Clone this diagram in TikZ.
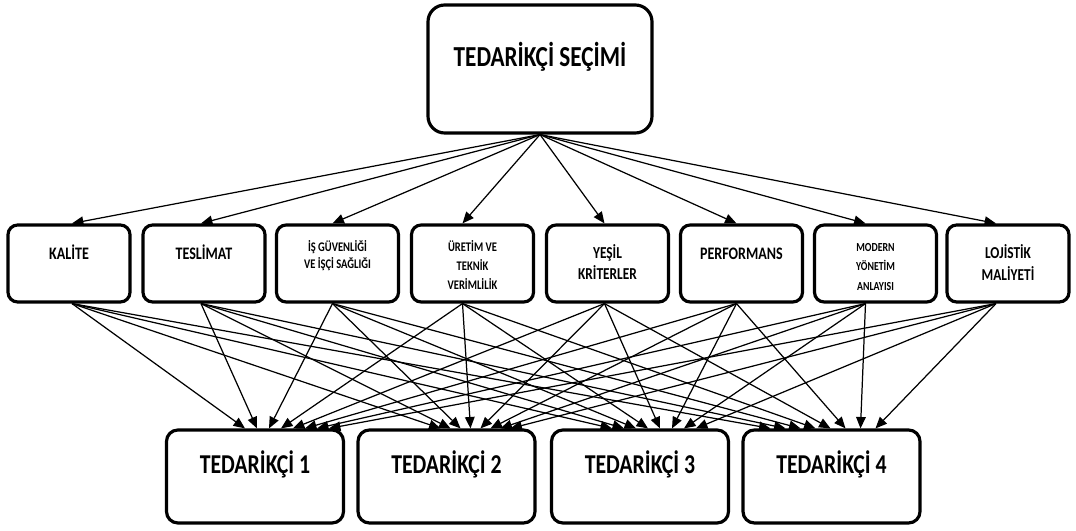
\documentclass[tikz,border=0pt]{standalone}
\usepackage{fontspec}
\setmainfont{Carlito}[FakeStretch=0.8]
\usetikzlibrary{arrows.meta}

\begin{document}
\begin{tikzpicture}[x=0.2mm, y=-0.2mm,
        kasten/.style={draw, line width=1.8pt, fill=white},
        oben/.style={kasten, minimum width=44.8mm, minimum height=25.6mm, rounded corners=9.5pt},
        kriterium/.style={kasten, minimum width=24.4mm, minimum height=15.4mm, rounded corners=5.5pt},
        lieferant/.style={kasten, minimum width=35.4mm, minimum height=18.6mm, rounded corners=6.5pt},
        beschr/.style={font=\bfseries, align=center, inner sep=0pt},
        pfeil/.style={-{Triangle[length=6.5pt,width=5.5pt]}, line width=0.7pt}]

        \useasboundingbox (0, 0) rectangle (1076, 531);

        % Auswahl oben
        \node[oben] (secim) at (540, 69) {};
        \node[beschr, font=\bfseries\fontsize{16.5}{18}\selectfont] (secim-t) at (540, 57) {TEDARİKÇİ SEÇİMİ};

        % Kriterien
        \node[kriterium] (kalite) at (69, 263.5) {};
        \node[kriterium] (teslimat) at (204, 263.5) {};
        \node[kriterium] (isg) at (337.5, 263.5) {};
        \node[kriterium] (uretim) at (472.5, 263.5) {};
        \node[kriterium] (yesil) at (607.5, 263.5) {};
        \node[kriterium] (perf) at (741.5, 263.5) {};
        \node[kriterium] (modern) at (875.5, 263.5) {};
        \node[kriterium] (lojistik) at (1008, 263.5) {};

        % Beschriftungen der Kriterien
        \node[beschr, font=\bfseries\fontsize{10}{12}\selectfont] (kalite-t) at (69, 252) {KALİTE};
        \node[beschr, font=\bfseries\fontsize{10}{12}\selectfont] (teslimat-t) at (204, 252) {TESLİMAT};
        \node[beschr, font=\bfseries\fontsize{7.5}{9.7}\selectfont] (isg-t) at (337.5, 256) {İŞ GÜVENLİĞİ\\VE İŞÇİ SAĞLIĞI};
        \node[beschr, font=\bfseries\fontsize{7.5}{10.8}\selectfont] (uretim-t) at (472.5, 265) {ÜRETİM VE\\TEKNİK\\VERİMLİLİK};
        \node[beschr, font=\bfseries\fontsize{9.5}{12}\selectfont] (yesil-t) at (607.5, 262) {YEŞİL\\KRİTERLER};
        \node[beschr, font=\bfseries\fontsize{10}{12}\selectfont] (perf-t) at (741.5, 254) {PERFORMANS};
        \node[beschr, font=\bfseries\fontsize{7}{11}\selectfont] (modern-t) at (875.5, 267) {MODERN\\YÖNETİM\\ANLAYISI};
        \node[beschr, font=\bfseries\fontsize{9.5}{12.5}\selectfont] (lojistik-t) at (1008, 263) {LOJİSTİK\\MALİYETİ};

        % Lieferanten unten
        \node[lieferant] (t1) at (255, 476.5) {};
        \node[lieferant] (t2) at (446.5, 476.5) {};
        \node[lieferant] (t3) at (640, 476.5) {};
        \node[lieferant] (t4) at (831.5, 476.5) {};
        \node[beschr, font=\bfseries\fontsize{15.5}{18}\selectfont] (t1-t) at (255, 464) {TEDARİKÇİ 1};
        \node[beschr, font=\bfseries\fontsize{15.5}{18}\selectfont] (t2-t) at (446.5, 464) {TEDARİKÇİ 2};
        \node[beschr, font=\bfseries\fontsize{15.5}{18}\selectfont] (t3-t) at (640, 464) {TEDARİKÇİ 3};
        \node[beschr, font=\bfseries\fontsize{15.5}{18}\selectfont] (t4-t) at (831.5, 464) {TEDARİKÇİ 4};

        % Pfeile Auswahl -> Kriterien
        \foreach \k/\dx in {kalite/3, teslimat/-3, isg/-5, uretim/-10, yesil/-3, perf/-5, modern/-10, lojistik/-12}
            \draw[pfeil] (secim.south) -- ([xshift=\dx*0.2mm]\k.north);

        % Pfeile Kriterien -> Lieferanten
        \foreach \k/\dx [count=\i from 0] in {kalite/3, teslimat/-3, isg/-5, uretim/-10, yesil/-3, perf/-5, modern/-10, lojistik/-12}
            \foreach \t/\a/\d in {t1/-10/12, t2/-6/10, t3/-28/12, t4/-61/15}
                \draw[pfeil] ([xshift=\dx*0.2mm]\k.south) -- ([xshift={(\a+\d*\i)*0.2mm}]\t.north);

    \end{tikzpicture}
\end{document}
